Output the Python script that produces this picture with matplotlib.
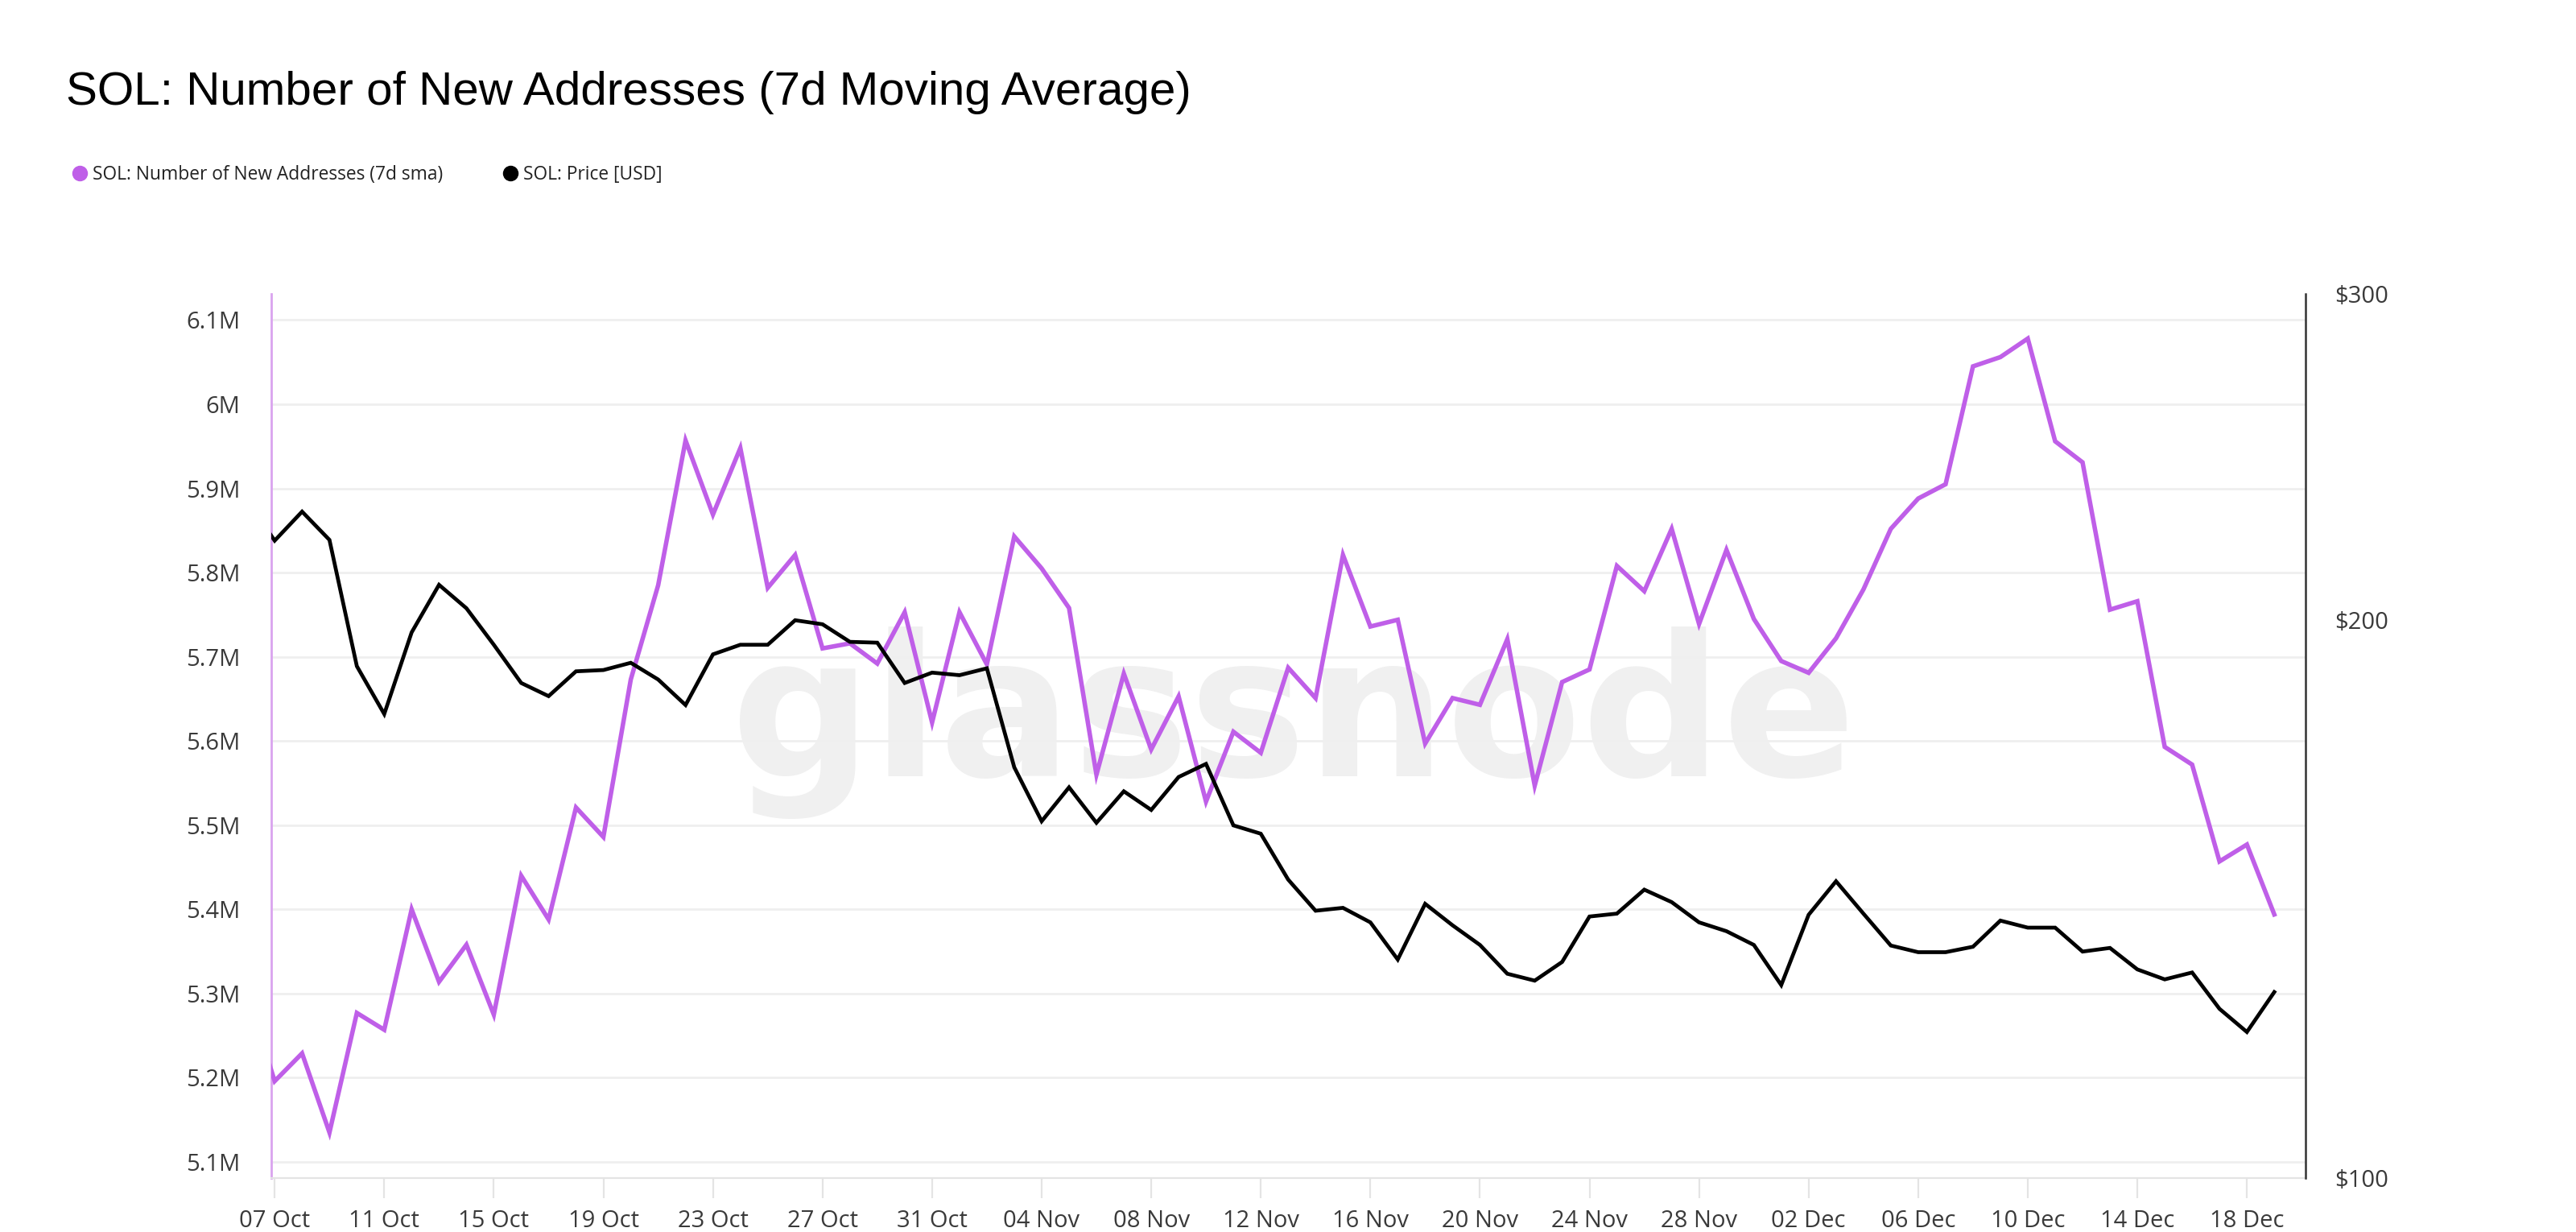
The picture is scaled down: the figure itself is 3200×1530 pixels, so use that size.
import pandas as pd
import numpy as np
import matplotlib
matplotlib.use('Agg')
import matplotlib.pyplot as plt
import matplotlib.dates as mdates
from matplotlib.lines import Line2D
from matplotlib.ticker import FuncFormatter, FixedLocator, NullLocator

# Data: daily values from 06 Oct to 19 Dec
dates = pd.date_range('2025-10-06', '2025-12-19', freq='D')

new_addresses_m = [
    5.300, 5.196, 5.229, 5.135, 5.277, 5.257, 5.400, 5.314, 5.358, 5.275,
    5.440, 5.388, 5.521, 5.486, 5.673, 5.785, 5.957, 5.869, 5.948, 5.782,
    5.821, 5.710, 5.716, 5.692, 5.753, 5.622, 5.753, 5.691, 5.843, 5.805,
    5.758, 5.560, 5.680, 5.590, 5.653, 5.528, 5.611, 5.586, 5.687, 5.651,
    5.821, 5.736, 5.744, 5.597, 5.651, 5.643, 5.721, 5.547, 5.670, 5.685,
    5.808, 5.778, 5.852, 5.739, 5.827, 5.745, 5.695, 5.681, 5.722, 5.780,
    5.852, 5.888, 5.905, 6.045, 6.056, 6.078, 5.956, 5.931, 5.756, 5.766,
    5.593, 5.572, 5.457, 5.477, 5.394,
]

price_usd = [
    232.0, 220.8, 228.9, 221.0, 188.9, 178.0, 197.0, 209.0, 203.0, 194.0,
    185.0, 182.0, 187.7, 188.0, 189.7, 185.8, 180.0, 191.7, 194.0, 194.0,
    200.0, 199.0, 194.7, 194.5, 185.0, 187.4, 186.8, 188.4, 166.6, 155.8,
    162.5, 155.5, 161.7, 158.0, 164.6, 167.3, 155.0, 153.4, 144.9, 139.4,
    139.9, 137.4, 131.2, 140.6, 136.9, 133.6, 128.9, 127.8, 130.8, 138.4,
    138.9, 143.1, 140.9, 137.4, 135.9, 133.6, 127.1, 138.7, 144.6, 138.9,
    133.5, 132.4, 132.4, 133.3, 137.7, 136.5, 136.5, 132.5, 133.1, 129.6,
    128.0, 129.1, 123.4, 119.9, 126.0,
]

left_ticks_m = [5.1, 5.2, 5.3, 5.4, 5.5, 5.6, 5.7, 5.8, 5.9, 6.0, 6.1]
right_ticks = [100, 200, 300]

PURPLE = '#bf5fe8'
TICK_COLOR = '#3a3a3a'
GRID = '#efefef'

plt.rcParams['font.family'] = ['Open Sans', 'DejaVu Sans']

fig = plt.figure(figsize=(16, 7.65), dpi=200)
fig.patch.set_facecolor('white')
ax = fig.add_axes([0.1053, 0.0438, 0.7897, 0.7176])
ax2 = ax.twinx()

# Watermark
ax.text(0.5026, 0.515, 'glassnode', transform=ax.transAxes, ha='center', va='center',
        fontsize=88, fontweight='bold', color='#f0f0f0', zorder=0, family='DejaVu Sans')

ax.plot(dates, np.array(new_addresses_m) * 1e6, color=PURPLE, lw=2.0, zorder=3,
        solid_joinstyle='miter')
ax2.plot(dates, price_usd, color='black', lw=1.7, zorder=3, solid_joinstyle='miter')

x0 = pd.Timestamp('2025-10-07')
ax.set_xlim(x0 - pd.Timedelta(hours=3), x0 + pd.Timedelta(days=74.14))
ax.set_ylim(5.0809e6, 6.131e6)
ax2.set_yscale('log')
ax2.set_ylim(100, 300)

# Left axis
ax.yaxis.set_major_locator(FixedLocator([v * 1e6 for v in left_ticks_m]))
ax.yaxis.set_major_formatter(FuncFormatter(lambda v, p: f"{v / 1e6:g}M"))
ax.tick_params(axis='y', length=0, pad=14, labelsize=10.5, labelcolor=TICK_COLOR)
ax.grid(axis='y', color=GRID, lw=1.0, zorder=1)
ax.set_axisbelow(True)

# Right axis
ax2.yaxis.set_major_locator(FixedLocator(right_ticks))
ax2.yaxis.set_minor_locator(NullLocator())
ax2.yaxis.set_major_formatter(FuncFormatter(lambda v, p: f"${v:.0f}"))
ax2.tick_params(axis='y', length=0, pad=13, labelsize=10.5, labelcolor=TICK_COLOR)

# X axis
ticks = pd.date_range('2025-10-07', '2025-12-18', freq='4D')
ax.xaxis.set_major_locator(FixedLocator(mdates.date2num(ticks)))
ax.xaxis.set_major_formatter(mdates.DateFormatter('%d %b'))
ax.tick_params(axis='x', length=9, width=0.8, color='#e4e4e4', pad=5,
               labelsize=10.5, labelcolor=TICK_COLOR)

for a in (ax, ax2):
    for s in a.spines.values():
        s.set_visible(False)
ax.spines['left'].set_visible(True)
ax.spines['left'].set_color('#d9a3ef')
ax.spines['left'].set_linewidth(1.0)
ax.spines['bottom'].set_visible(True)
ax.spines['bottom'].set_color('#e4e4e4')
ax.spines['bottom'].set_linewidth(0.8)
ax2.spines['right'].set_visible(True)
ax2.spines['right'].set_color('#333333')
ax2.spines['right'].set_linewidth(0.9)

# Title
fig.text(82 / 3200, 1 - 130 / 1530, 'SOL: Number of New Addresses (7d Moving Average)',
         fontsize=21, color='black', va='baseline', ha='left', family='Liberation Sans')

# Legend
handles = [
    Line2D([], [], marker='o', ls='none', color=PURPLE, markersize=6,
           label='SOL: Number of New Addresses (7d sma)'),
    Line2D([], [], marker='o', ls='none', color='black', markersize=6,
           label='SOL: Price [USD]'),
]
fig.legend(handles=handles, loc='center left', bbox_to_anchor=(92 / 3200, 1 - 217 / 1530),
           ncol=2, frameon=False, fontsize=8.2, handlelength=0.6, handletextpad=0.4,
           columnspacing=3.4, borderpad=0, borderaxespad=0, labelcolor='#222222')

fig.savefig('out.png', dpi=200, facecolor='white')
